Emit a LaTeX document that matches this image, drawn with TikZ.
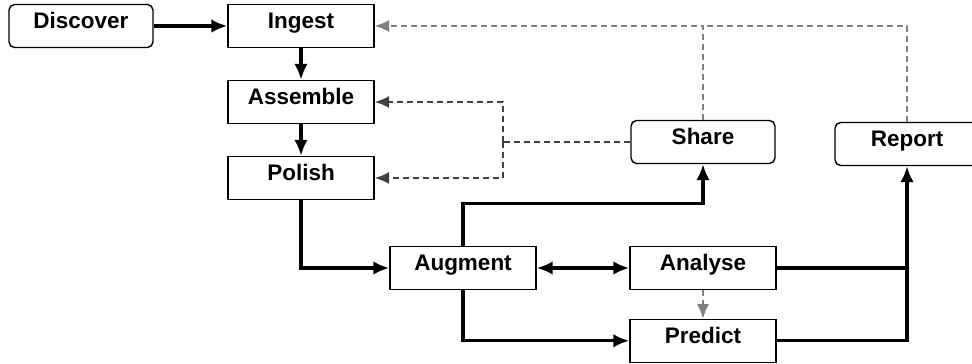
\documentclass[tikz,border=0pt]{standalone}
\usepackage{fontspec}
\setmainfont{Liberation Sans}
\usepackage{xcolor}
\usetikzlibrary{shapes.geometric, arrows.meta}
\tikzstyle{startstop} = [rectangle, rounded corners=4pt, minimum width=3.6cm, minimum height=1.075cm, text height=0.4cm, text depth=0.28cm, text centered, draw=black, line width=1pt, font=\fontsize{16}{19}\selectfont\bfseries]
\tikzstyle{process} = [rectangle, minimum width=3.65cm, minimum height=1.075cm, text height=0.4cm, text depth=0.28cm, text centered, draw=black, line width=1pt, font=\fontsize{16}{19}\selectfont\bfseries]
\tikzstyle{arrow} = [line width=2.2pt, -{Latex[length=4mm,width=3.4mm]}]
\tikzstyle{twoway} = [line width=2.2pt, {Latex[length=4mm,width=3.4mm]}-{Latex[length=4mm,width=3.4mm]}]
\tikzstyle{line} = [line width=2.2pt]
\tikzstyle{fork line} = [line width=1.2pt, dash pattern=on 0.15cm off 0.1cm, draw=black!75]
\tikzstyle{feedback} = [fork line, -{Latex[length=3.6mm,width=3mm]}]
\tikzstyle{backlink} = [line width=1.2pt, dash pattern=on 0.15cm off 0.1cm, draw=black!50, -{Latex[length=3.6mm,width=3mm]}]

\begin{document}
\begin{tikzpicture}[node distance=1.9cm]
\useasboundingbox (-2.025,0.65) rectangle (22.275,-8.45);
\node (discover) [startstop] {Discover};
\node (ingest) [process, right of=discover, xshift=3.6cm] {Ingest};
\node (assemble) [process, below of=ingest] {Assemble};
\node (polish) [process, below of=assemble] {Polish};
\node (augment) [process, below of=polish, xshift=4.05cm, yshift=-0.35cm] {Augment};
\node (analyse) [process, right of=augment, xshift=4.1cm] {Analyse};
\node (predict) [process, below of=analyse, yshift=0.08cm] {Predict};
\node (share) [startstop, above of=analyse, yshift=1.25cm] {Share};
\node (report) [startstop, right of=share, xshift=3.2cm, yshift=-0.05cm] {Report};

\draw [arrow] (discover) -- (ingest);
\draw [arrow] (ingest) -- (assemble);
\draw [arrow] (assemble) -- (polish);
\draw [arrow] (polish) |- (augment);
\draw [arrow] (augment.north) -- ++(0,1.05) -| (share.south);
\draw [twoway] (augment) -- (analyse);
\draw [arrow] (augment.south) |- (predict);
\draw [line] (analyse.east) -- (analyse -| report);
\draw [arrow] (predict.east) -| (report.south);
\draw [backlink] (analyse) -- (predict);

% feedback from share and report
\path ([xshift=3.2cm]assemble.east) coordinate (fx);
\coordinate (fork) at (fx |- share.west);
\draw [fork line] (share.west) -- (fork);
\draw [feedback] (fork) |- (assemble.east);
\draw [feedback] (fork) |- (polish.east);
\draw [backlink] (share.north) |- (ingest.east);
\draw [backlink, -] (report.north) |- (share.north |- ingest.east);
\end{tikzpicture}
\end{document}
